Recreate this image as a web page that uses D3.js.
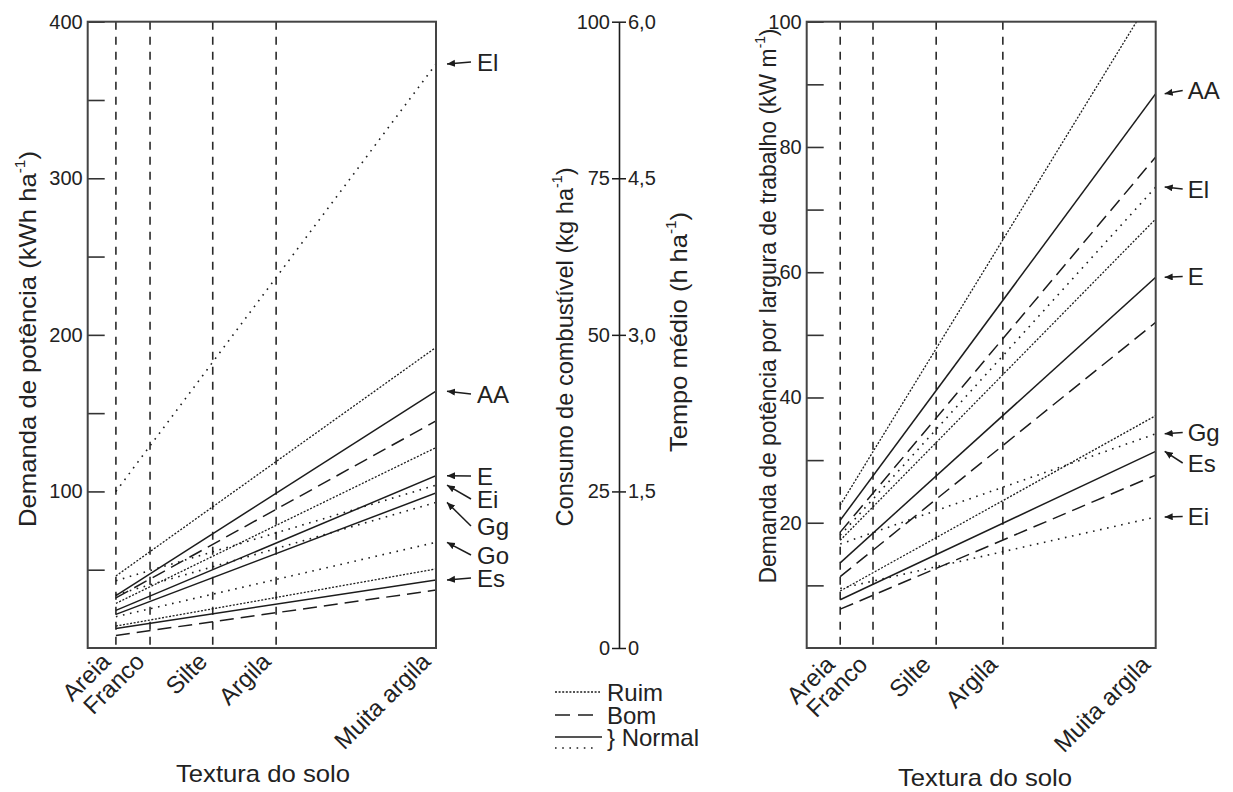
<!DOCTYPE html>
<html>
<head>
<meta charset="utf-8">
<script src="https://cdn.jsdelivr.net/npm/d3@7"></script>
<style>
  html, body { margin: 0; padding: 0; background: #fff; }
  svg { display: block; }
  text { font-family: "Liberation Sans", Arial, Helvetica, sans-serif; fill: #222; }
</style>
</head>
<body>
<svg id="chart" width="1233" height="792"></svg>
<script>
// ---- data ---------------------------------------------------------------
// soil texture classes on the horizontal axis and their position (% of axis width)
const textureLabels = ["Areia", "Franco", "Silte", "Argila", "Muita argila"];
const texturePosLeft = [8.1, 17.9, 35.9, 54.1, 100];
const texturePosRight = [9.6, 19.0, 37.1, 56.2, 100];

// left panel: power demand per area (kWh ha-1), value at Areia and at Muita argila
const areaStyle      = ["normalDot", "ruim", "normal", "bom", "ruim", "normalDot", "normal", "normal", "normalDot", "normalDot", "ruim", "normal", "bom"];
const areaAtAreia    = [100, 46, 33.5, 32, 28.5, 43, 24, 21.5, 34, 20, 14, 12.5, 8];
const areaAtMuita    = [373, 192, 164, 145, 128, 104, 110, 99, 93, 67.5, 50.5, 43.5, 37];
const areaCallouts   = ["El", "AA", "E", "Ei", "Gg", "Go", "Es"];
const areaCalloutRef = [0, 2, 6, 5, 8, 9, 11];
const areaTicks      = [50, 100, 150, 200, 250, 300, 350, 400];

// right panel: power demand per working width (kW m-1)
const widthStyle      = ["ruim", "normal", "bom", "normalDot", "ruim", "normal", "bom", "normalDot", "ruim", "normal", "bom", "normalDot"];
const widthAtAreia    = [22.8, 20.4, 18.5, 18.0, 17.2, 13.6, 11.4, 16.6, 9.1, 7.7, 6.2, 9.5];
const widthAtMuita    = [105, 88.5, 78.4, 73.6, 68.5, 59.2, 52.0, 34.2, 37.1, 31.4, 27.6, 20.9];
const widthCallouts   = ["AA", "El", "E", "Gg", "Es", "Ei"];
const widthCalloutRef = [1, 3, 5, 7, 9, 11];
const widthTicks      = [10, 20, 30, 40, 50, 60, 70, 80, 90, 100];

// middle nomogram scale: fuel use (kg ha-1) and mean time (h ha-1)
const fuelTicks      = [0, 25, 50, 75, 100];
const timeTickLabels = ["0", "1,5", "3,0", "4,5", "6,0"];

// legend entries
const legendLabels = ["Ruim", "Bom", "} Normal"];

// ---- layout -------------------------------------------------------------
const svg = d3.select("#chart");
const plotTop = 21.7, plotBottom = 648;
const INK = "#1c1c1c";

const lineStyles = {
  ruim:      { dash: "2,1.6", width: 1.3 },
  bom:       { dash: "14,7",  width: 1.5 },
  normal:    { dash: null,    width: 1.5 },
  normalDot: { dash: "1.6,5.6", width: 1.6 }
};

const defs = svg.append("defs");
defs.append("marker")
  .attr("id", "arrowhead")
  .attr("markerUnits", "userSpaceOnUse")
  .attr("markerWidth", 10).attr("markerHeight", 8)
  .attr("refX", 8).attr("refY", 3.5)
  .attr("orient", "auto")
  .append("path").attr("d", "M0,0 L8,3.5 L0,7 Z").attr("fill", INK);

function superTitle(sel, parts) {
  // parts: [main text, superscript, closing text]
  sel.append("tspan").text(parts[0]);
  sel.append("tspan").attr("font-size", "0.6em").attr("dy", "-0.75em").text(parts[1]);
  sel.append("tspan").attr("dy", "0.45em").text(parts[2]);
}

function drawPanel(cfg) {
  const x = d3.scaleLinear().domain([0, 100]).range([cfg.left, cfg.right]);
  const y = d3.scaleLinear().domain(cfg.domain).range([plotBottom, plotTop]);
  const g = svg.append("g");

  const clipId = cfg.id + "-clip";
  defs.append("clipPath").attr("id", clipId)
    .append("rect").attr("x", cfg.left).attr("y", plotTop)
    .attr("width", cfg.right - cfg.left).attr("height", plotBottom - plotTop);

  // vertical dashed guides at the texture classes
  g.selectAll(".guide").data(cfg.pos.slice(0, 4)).enter().append("line")
    .attr("x1", d => x(d)).attr("x2", d => x(d))
    .attr("y1", plotTop).attr("y2", plotBottom)
    .attr("stroke", "#2a2a2a").attr("stroke-width", 1.6)
    .attr("stroke-dasharray", "8,7");

  // y axis, ticks pointing into the plot
  const axis = d3.axisLeft(y).tickValues(cfg.ticks)
    .tickSizeInner(-17).tickSizeOuter(0).tickPadding(5)
    .tickFormat(d => cfg.labelTick(d) ? d : "");
  const ag = g.append("g").attr("transform", `translate(${cfg.left},0)`).call(axis);
  ag.select(".domain").remove();
  ag.selectAll(".tick line").attr("stroke", "#333").attr("stroke-width", 1.6);
  ag.selectAll(".tick text").attr("font-size", 20).attr("fill", "#222")
    .attr("font-family", "Liberation Sans, Arial, sans-serif");

  // response lines
  const line = d3.line().x(d => x(d[0])).y(d => y(d[1]));
  const rows = cfg.style.map((s, i) => ({ s, pts: [[cfg.pos[0], cfg.start[i]], [cfg.pos[4], cfg.end[i]]] }));
  g.append("g").attr("clip-path", `url(#${clipId})`)
    .selectAll("path").data(rows).enter().append("path")
    .attr("d", d => line(d.pts))
    .attr("fill", "none").attr("stroke", INK)
    .attr("stroke-width", d => lineStyles[d.s].width)
    .attr("stroke-dasharray", d => lineStyles[d.s].dash);

  // frame
  g.append("rect").attr("x", cfg.left).attr("y", plotTop)
    .attr("width", cfg.right - cfg.left).attr("height", plotBottom - plotTop)
    .attr("fill", "none").attr("stroke", "#444").attr("stroke-width", 2);

  // callouts with arrows
  cfg.callouts.forEach((name, i) => {
    const tipY = y(cfg.end[cfg.calloutRef[i]]);
    const cy = cfg.calloutY[i];
    g.append("line")
      .attr("x1", cfg.right + cfg.tail).attr("y1", cy)
      .attr("x2", cfg.right + cfg.tip).attr("y2", tipY)
      .attr("stroke", INK).attr("stroke-width", 1.5)
      .attr("marker-end", "url(#arrowhead)");
    g.append("text")
      .attr("x", cfg.right + cfg.textGap).attr("y", cy + 8.5)
      .attr("font-size", 24).text(name);
  });

  // texture class labels
  textureLabels.forEach((t, i) => {
    const tx = x(cfg.pos[i]) - 4, ty = cfg.xLabelY;
    g.append("text")
      .attr("transform", `translate(${tx},${ty}) rotate(-45)`)
      .attr("text-anchor", "end").attr("font-size", 24).text(t);
  });

  g.append("text").attr("x", cfg.xTitleX).attr("y", cfg.xTitleY)
    .attr("text-anchor", "middle").attr("font-size", 24)
    .attr("textLength", 174).attr("lengthAdjust", "spacingAndGlyphs")
    .text("Textura do solo");

  const yt = g.append("text")
    .attr("transform", `translate(${cfg.yTitleX},${cfg.yTitleMid}) rotate(-90)`)
    .attr("text-anchor", "middle").attr("font-size", 24)
    .attr("textLength", cfg.yTitleLen).attr("lengthAdjust", "spacingAndGlyphs");
  superTitle(yt, cfg.yTitle);
}

drawPanel({
  id: "area", left: 87.7, right: 436, domain: [0, 400],
  pos: texturePosLeft, ticks: areaTicks, labelTick: d => d % 100 === 0,
  style: areaStyle, start: areaAtAreia, end: areaAtMuita,
  callouts: areaCallouts, calloutRef: areaCalloutRef,
  calloutY: [62, 394, 476, 499, 526, 555, 578],
  tip: 11, tail: 35, textGap: 41,
  xLabelY: 663, xTitleX: 263, xTitleY: 782,
  yTitleX: 36, yTitleMid: 339, yTitleLen: 376,
  yTitle: ["Demanda de potência (kWh ha", "-1", ")"]
});

drawPanel({
  id: "width", left: 806.7, right: 1155.7, domain: [0, 100],
  pos: texturePosRight, ticks: widthTicks, labelTick: d => d % 20 === 0,
  style: widthStyle, start: widthAtAreia, end: widthAtMuita,
  callouts: widthCallouts, calloutRef: widthCalloutRef,
  calloutY: [90.5, 189, 276.5, 432.5, 463, 516.5],
  tip: 9, tail: 27, textGap: 32,
  xLabelY: 666, xTitleX: 985, xTitleY: 786,
  yTitleX: 776, yTitleMid: 306, yTitleLen: 555,
  yTitle: ["Demanda de potência por largura de trabalho (kW m", "-1", ")"]
});

// ---- middle nomogram axis ------------------------------------------------
const yMid = d3.scaleLinear().domain([0, 100]).range([plotBottom, plotTop]);
const midX = 619;
const fuelAxis = d3.axisLeft(yMid).tickValues(fuelTicks).tickSizeInner(7).tickSizeOuter(0).tickPadding(2);
const timeAxis = d3.axisRight(yMid).tickValues(fuelTicks).tickSizeInner(7).tickSizeOuter(0).tickPadding(2)
  .tickFormat((d, i) => timeTickLabels[i]);
const fa = svg.append("g").attr("transform", `translate(${midX},0)`).call(fuelAxis);
const ta = svg.append("g").attr("transform", `translate(${midX},0)`).call(timeAxis);
ta.select(".domain").remove();
fa.select(".domain").attr("stroke", INK).attr("stroke-width", 1.6);
[fa, ta].forEach(a => {
  a.selectAll(".tick line").attr("stroke", INK).attr("stroke-width", 1.5);
  a.selectAll(".tick text").attr("font-size", 20).attr("fill", "#222")
    .attr("font-family", "Liberation Sans, Arial, sans-serif");
});

const fuelTitle = svg.append("text")
  .attr("transform", `translate(573,347) rotate(-90)`)
  .attr("text-anchor", "middle").attr("font-size", 24)
  .attr("textLength", 359).attr("lengthAdjust", "spacingAndGlyphs");
superTitle(fuelTitle, ["Consumo de combustível (kg ha", "-1", ")"]);

const timeTitle = svg.append("text")
  .attr("transform", `translate(687,332) rotate(-90)`)
  .attr("text-anchor", "middle").attr("font-size", 24)
  .attr("textLength", 240).attr("lengthAdjust", "spacingAndGlyphs");
superTitle(timeTitle, ["Tempo médio (h ha", "-1", ")"]);

// ---- legend --------------------------------------------------------------
const lg = svg.append("g");
const legendRows = [
  { y: 692, samples: [{ s: "ruim", x1: 555, x2: 600, dy: 0 }] },
  { y: 715, samples: [{ s: "bom", x1: 555, x2: 595, dy: 0 }] },
  { y: 737, samples: [{ s: "normal", x1: 555, x2: 602, dy: 0 }, { s: "normalDot", x1: 555, x2: 597, dy: 11 }] }
];
legendRows.forEach((r, i) => {
  r.samples.forEach(smp => {
    lg.append("line").attr("x1", smp.x1).attr("x2", smp.x2)
      .attr("y1", r.y + smp.dy).attr("y2", r.y + smp.dy)
      .attr("stroke", INK).attr("stroke-width", lineStyles[smp.s].width)
      .attr("stroke-dasharray", smp.s === "bom" ? "15,8" : lineStyles[smp.s].dash);
  });
  lg.append("text").attr("x", 607).attr("y", r.y + 9)
    .attr("font-size", 24).text(legendLabels[i]);
});
</script>
</body>
</html>
